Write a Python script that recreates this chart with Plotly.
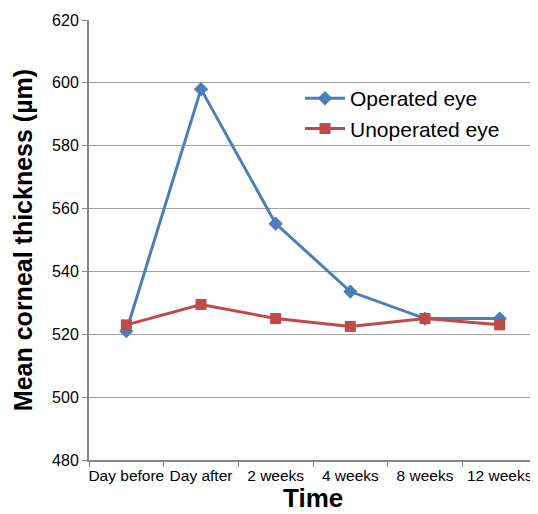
import plotly.graph_objects as go

categories = ["Day before", "Day after", "2 weeks", "4 weeks", "8 weeks", "12 weeks"]
operated = [521, 598, 555.2, 533.6, 525, 525]
unoperated = [523, 529.5, 525, 522.5, 525, 523]
y_ticks = [480, 500, 520, 540, 560, 580, 600, 620]

fig = go.Figure()
fig.add_trace(go.Scatter(
    x=categories, y=operated, name="Operated eye", mode="lines+markers",
    line=dict(color="#4a7ebb", width=3),
    marker=dict(symbol="diamond", size=11, color="#4a7ebb"),
))
fig.add_trace(go.Scatter(
    x=categories, y=unoperated, name="Unoperated eye", mode="lines+markers",
    line=dict(color="#be4b48", width=3),
    marker=dict(symbol="square", size=11, color="#be4b48"),
))

# page body has an 8px margin, so the figure is sized to fill the window from (8, 8)
fig.update_layout(
    width=530, height=506,
    margin=dict(l=81, r=1, t=12, b=54, autoexpand=False),
    paper_bgcolor="white", plot_bgcolor="white",
    font=dict(family="Liberation Sans, Arial", color="black", size=16),
    showlegend=True,
    legend=dict(x=0.471, y=0.868, xanchor="left", yanchor="top",
                font=dict(size=21), bgcolor="rgba(0,0,0,0)",
                tracegroupgap=0, itemwidth=40),
    annotations=[dict(
        text="<b>Time</b>", xref="paper", yref="paper", x=0.5, y=-0.1227,
        xanchor="center", yanchor="bottom", showarrow=False, borderpad=0,
        font=dict(size=26, color="black"),
    )],
)
fig.update_xaxes(
    type="category", range=[-0.5, 5.5],
    tickson="boundaries", ticks="outside", ticklen=5, tickcolor="#868686",
    showline=True, linecolor="#868686", linewidth=2, showgrid=False,
    tickfont=dict(size=15.5), tickangle=0, automargin=False,
)
fig.update_yaxes(
    range=[480, 620], tickvals=y_ticks,
    ticks="outside", ticklen=5, tickcolor="#868686",
    showline=True, linecolor="#868686", linewidth=2,
    showgrid=True, gridcolor="#a0a0a0", gridwidth=1,
    tickfont=dict(size=16), automargin=False,
    title=dict(text="<b>Mean corneal thickness (µm)</b>", font=dict(size=25), standoff=12),
    zeroline=False,
)

fig.write_html("out.html")
